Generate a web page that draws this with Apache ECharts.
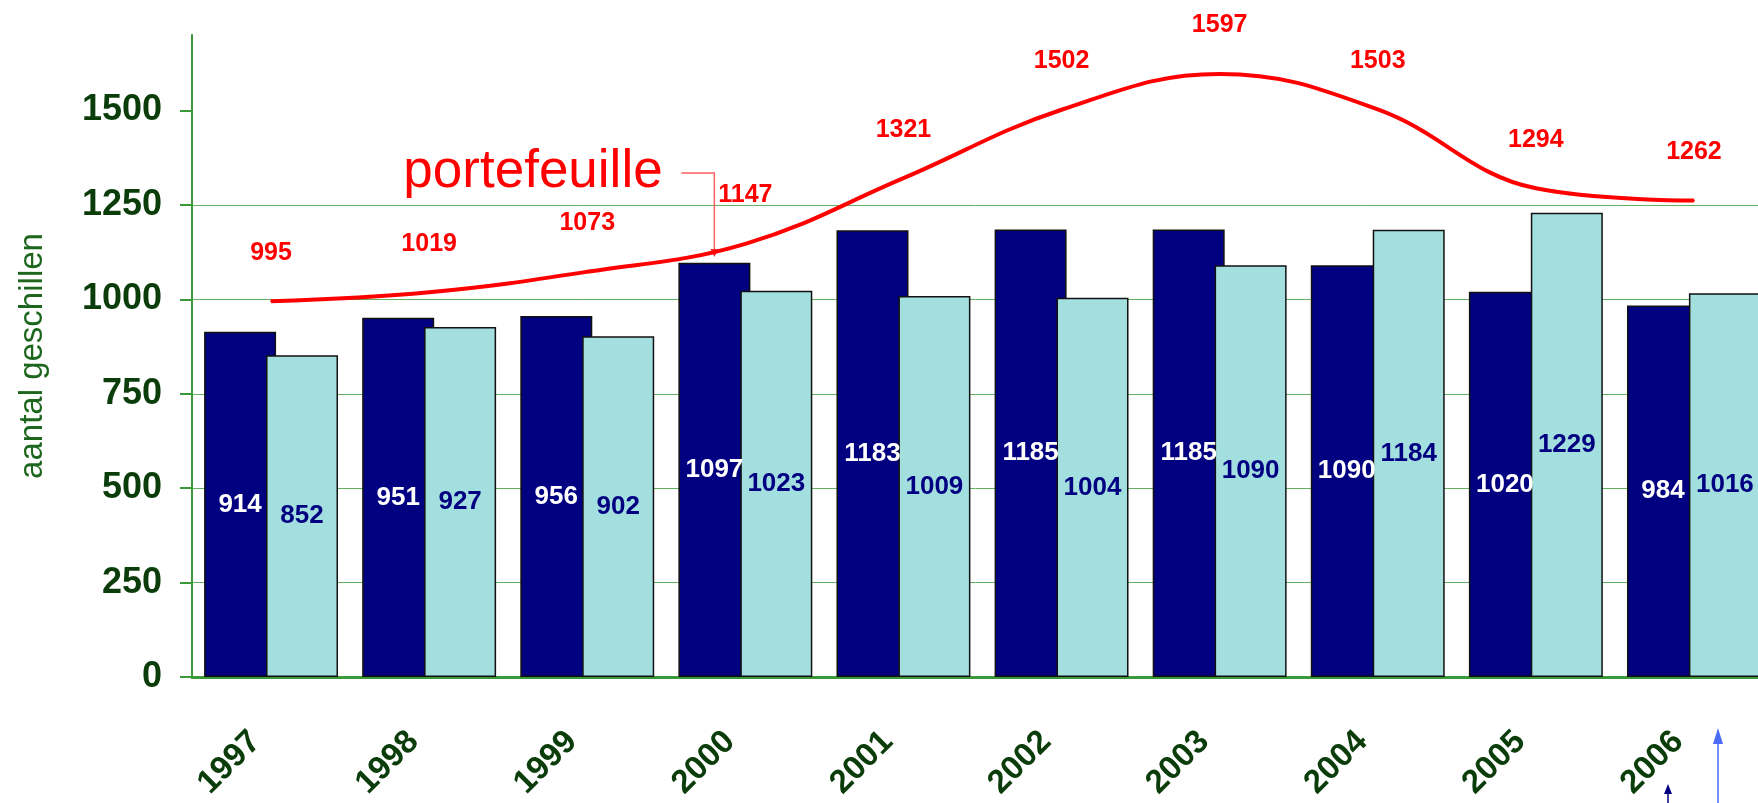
<!DOCTYPE html>
<html>
<head>
<meta charset="utf-8">
<script src="https://cdn.jsdelivr.net/npm/echarts@6/dist/echarts.min.js"></script>
<style>
  html, body { margin: 0; padding: 0; background: #fff; }
  #chart { width: 1758px; height: 803px; }
</style>
</head>
<body>
<div id="chart"></div>
<script>
const years = ['1997', '1998', '1999', '2000', '2001', '2002', '2003', '2004', '2005', '2006']
const ingekomen = [914, 951, 956, 1097, 1183, 1185, 1185, 1090, 1020, 984]
const afgehandeld = [852, 927, 902, 1023, 1009, 1004, 1090, 1184, 1229, 1016]
const portefeuille = [995, 1019, 1073, 1147, 1321, 1502, 1597, 1503, 1294, 1262]
const yTickValues = [0, 250, 500, 750, 1000, 1250, 1500]

const font = "'Liberation Sans', Arial, sans-serif"
const axisGreen = '#3a9a3a'
const labelGreen = '#0b3d0b'

const chart = echarts.init(document.getElementById('chart'))

chart.setOption({
  animation: false,
  textStyle: { fontFamily: font },
  grid: { left: 192, right: -15, top: 35, bottom: 126, containLabel: false, outerBoundsMode: 'none' },
  xAxis: [
    {
      type: 'category',
      data: years,
      axisLine: { lineStyle: { color: axisGreen, width: 3 } },
      axisTick: { length: 10, lineStyle: { color: axisGreen, width: 2 } },
      axisLabel: {
        rotate: 45, margin: 44, padding: [0, 22, 0, 0],
        fontSize: 33, fontWeight: 'bold', color: labelGreen
      }
    },
    {
      type: 'category',
      data: years,
      position: 'bottom',
      axisLine: { show: false },
      axisTick: { inside: true, length: 10, lineStyle: { color: axisGreen, width: 2 } },
      axisLabel: { show: false }
    }
  ],
  yAxis: {
    type: 'value',
    min: 0,
    max: 1700,
    interval: 250,
    name: 'aantal geschillen',
    nameLocation: 'middle',
    nameGap: 143,
    nameTextStyle: { fontSize: 33, color: '#1d661d' },
    axisLine: { show: true, lineStyle: { color: axisGreen, width: 2 } },
    axisTick: { show: true, length: 12, customValues: yTickValues, lineStyle: { color: axisGreen, width: 2 } },
    axisLabel: {
      fontSize: 36, fontWeight: 'bold', color: labelGreen, margin: 30,
      customValues: yTickValues, formatter: v => String(v)
    },
    splitLine: { showMaxLine: false, lineStyle: { color: '#62b062', width: 1 } }
  },
  series: [
    {
      name: 'ingekomen',
      type: 'bar',
      data: ingekomen,
      barWidth: 72,
      barGap: '-14%',
      itemStyle: { color: '#000080', borderColor: '#111', borderWidth: 1.5 },
      label: { show: true, position: 'inside', color: '#fff', fontSize: 26, fontWeight: 'bold' }
    },
    {
      name: 'afgehandeld',
      type: 'bar',
      data: afgehandeld,
      barWidth: 72,
      barGap: '-14%',
      itemStyle: { color: '#a4dfe0', borderColor: '#111', borderWidth: 1.5 },
      label: { show: true, position: 'inside', color: '#000080', fontSize: 26, fontWeight: 'bold' }
    },
    {
      name: 'portefeuille',
      type: 'line',
      data: portefeuille,
      smooth: 0.4,
      symbol: 'circle',
      symbolSize: 2,
      itemStyle: { color: '#ff0000' },
      lineStyle: { color: '#ff0000', width: 4 },
      label: { show: true, position: 'top', distance: 35, color: '#ff0000', fontSize: 25, fontWeight: 'bold' },
      z: 5
    }
  ]
})

// annotation "portefeuille" with leader line to the curve just left of 2000
const anchor = chart.convertToPixel({ xAxisIndex: 0, yAxisIndex: 0 }, [3, 1112])
const ax = anchor[0] - 31
const ay = anchor[1]
chart.setOption({
  graphic: [
    {
      type: 'text',
      left: ax - 311, top: ay - 111,
      style: { text: 'portefeuille', fontSize: 53, fill: '#ff0000', fontFamily: font }
    },
    {
      type: 'polyline',
      shape: { points: [[ax - 33, ay - 84], [ax, ay - 84], [ax, ay - 4]] },
      style: { stroke: '#ff6060', lineWidth: 1.5, fill: null }
    },
    {
      type: 'polygon',
      shape: { points: [[ax - 4, ay - 8], [ax + 4, ay - 8], [ax, ay]] },
      style: { fill: '#ff3030' }
    },
    {
      type: 'line',
      shape: { x1: 1718, y1: 733, x2: 1718, y2: 803 },
      style: { stroke: '#4a6cf7', lineWidth: 1.5 }
    },
    {
      type: 'polygon',
      shape: { points: [[1713, 744], [1723, 744], [1718, 728]] },
      style: { fill: '#4a6cf7' }
    },
    {
      type: 'line',
      shape: { x1: 1668, y1: 790, x2: 1668, y2: 803 },
      style: { stroke: '#000080', lineWidth: 1.5 }
    },
    {
      type: 'polygon',
      shape: { points: [[1664, 794], [1672, 794], [1668, 784]] },
      style: { fill: '#000080' }
    }
  ]
})
</script>
</body>
</html>
